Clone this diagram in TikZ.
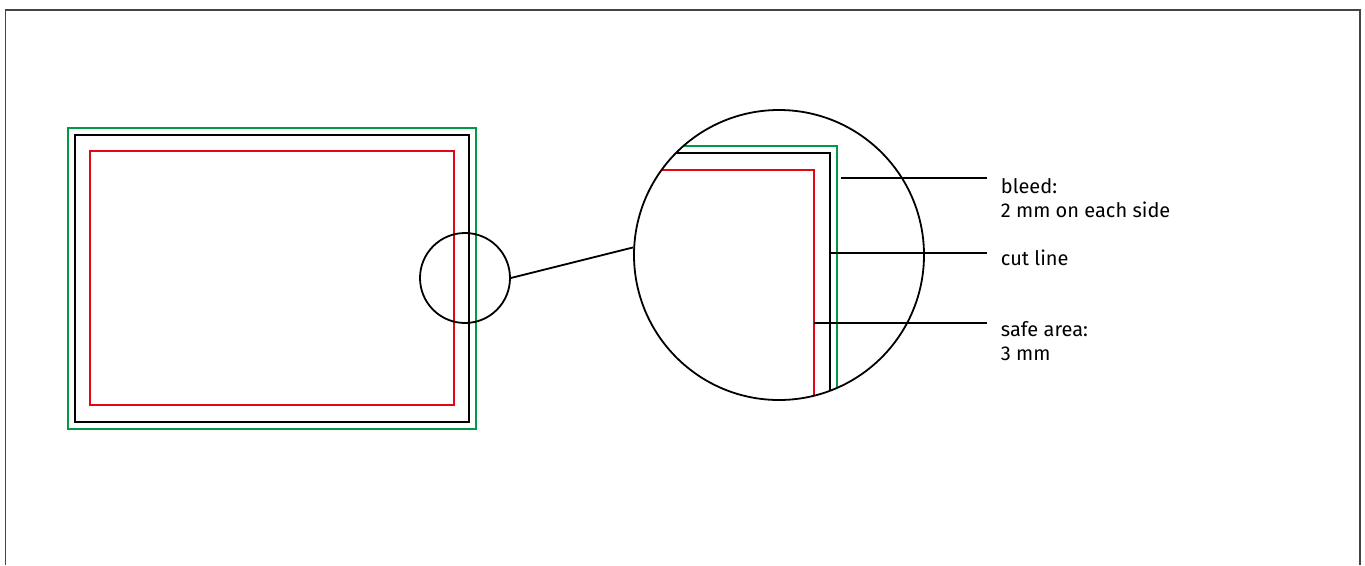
\documentclass[tikz,border=0pt]{standalone}
\usepackage{fontspec}
\setmainfont{Fira Sans}
\usetikzlibrary{calc}
\definecolor{bleedgreen}{HTML}{009A44}
\definecolor{safered}{HTML}{E30613}
\definecolor{framegray}{HTML}{444444}
\tikzset{
  bleedline/.style={draw=bleedgreen},
  cutline/.style={draw=black},
  safeline/.style={draw=safered},
  lens/.style={circle,draw,inner sep=0pt},
  lbl/.style={anchor=north west,align=left,inner sep=0pt,
    font=\fontsize{20}{24}\selectfont}
}
\begin{document}
\begin{tikzpicture}[x=1pt,y=-1pt,line width=1.8pt]
      \useasboundingbox (0,0) rectangle (1365,565);
      \draw [framegray,line width=1.4pt] (5.5,565) -- (5.5,10) -- (1360,10) -- (1360,565);
      % whole card
      \draw [bleedline] (68,128) rectangle (476,429);
      \draw [cutline] (75,135) rectangle (469,422);
      \draw [safeline] (90,151) rectangle (454,405);
      % enlarged corner
      \begin{scope}
        \clip (779,255) circle (145pt);
        \draw [bleedline] (600,146) -- (837,146) -- (837,450);
        \draw [cutline] (600,153) -- (830,153) -- (830,450);
        \draw [safeline] (600,170) -- (814,170) -- (814,450);
      \end{scope}
      \node [lens,minimum size=90pt] (zoom) at (465,278) {};
      \node [lens,minimum size=290pt] (big) at (779,255) {};
      \draw (zoom.east) -- (big.177);
      %
      \node [lbl] (bleed) at (1000,178) {bleed:\\2 mm on each side};
      \node [lbl] (cut) at (1000,249) {cut line};
      \node [lbl] (safe) at (1000,321) {safe area:\\3 mm};
      \coordinate (b) at (841,178);
      \coordinate (c) at (830,253);
      \coordinate (s) at (814,323);
      \draw (b) -- (b -| 987,0);
      \draw (c) -- (c -| 987,0);
      \draw (s) -- (s -| 987,0);
\end{tikzpicture}
\end{document}
